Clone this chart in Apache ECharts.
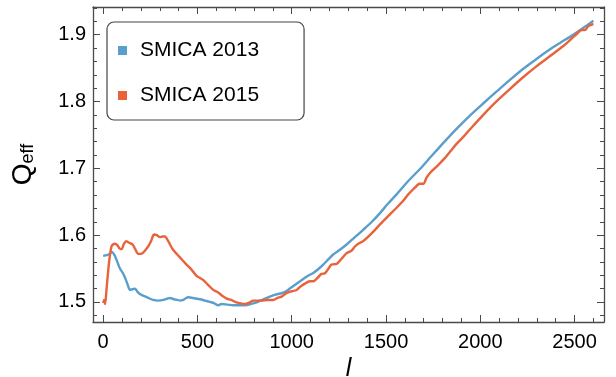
<!DOCTYPE html>
<html>
<head>
<meta charset="utf-8">
<script src="https://cdn.jsdelivr.net/npm/echarts@6/dist/echarts.min.js"></script>
<style>html,body{margin:0;padding:0;background:#fff}#c{width:616px;height:377px}</style>
</head>
<body>
<div id="c"></div>
<script>
// ---- data ----
const seriesNames = ['SMICA 2013', 'SMICA 2015'];
const smica2013 = [
 [0,1.569],[20,1.570],[35,1.572],[46,1.575],[60,1.570],[75,1.560],[89,1.550],[105,1.543],[115,1.537],[130,1.526],
 [142,1.518],[155,1.519],[168,1.520],[182,1.515],[195,1.512],[215,1.509],[239,1.506],[265,1.503],[292,1.502],[320,1.503],
 [340,1.505],[354,1.506],[375,1.504],[395,1.503],[407,1.502],[425,1.503],[440,1.506],[451,1.507],[475,1.506],[513,1.504],
 [540,1.502],[566,1.500],[590,1.498],[610,1.495],[628,1.497],[660,1.496],[690,1.495],[720,1.495],[752,1.495],[785,1.497],
 [814,1.4995],[850,1.504],[884,1.508],[915,1.511],[946,1.513],[970,1.516],[990,1.520],[1020,1.526],[1050,1.532],[1080,1.538],
 [1114,1.5435],[1140,1.549],[1167,1.556],[1195,1.564],[1220,1.571],[1255,1.578],[1291,1.586],[1335,1.597],[1379,1.608],[1425,1.620],
 [1468,1.633],[1510,1.647],[1556,1.661],[1618,1.681],[1680,1.699],[1740,1.718],[1804,1.738],[1870,1.758],[1945,1.779],[2015,1.797],
 [2087,1.815],[2160,1.833],[2228,1.849],[2300,1.864],[2370,1.878],[2425,1.888],[2476,1.897],[2540,1.909],[2600,1.921]
];
const smica2015 = [
 [0,1.4985],[5,1.503],[10,1.497],[18,1.520],[27,1.548],[35,1.568],[44,1.583],[52,1.586],[62,1.587],[75,1.585],
 [87,1.580],[97,1.579],[110,1.587],[122,1.591],[135,1.589],[156,1.586],[170,1.579],[186,1.572],[200,1.572],[212,1.574],
 [225,1.578],[239,1.583],[255,1.592],[270,1.601],[285,1.600],[301,1.597],[315,1.598],[327,1.598],[345,1.591],[358,1.584],
 [371,1.578],[393,1.571],[416,1.564],[438,1.557],[460,1.551],[478,1.545],[495,1.539],[513,1.536],[530,1.533],[555,1.526],
 [584,1.518],[610,1.514],[633,1.509],[655,1.505],[679,1.503],[700,1.500],[716,1.4985],[735,1.4975],[752,1.497],[775,1.499],
 [796,1.502],[818,1.502],[840,1.502],[870,1.503],[902,1.503],[925,1.506],[946,1.508],[973,1.5135],[1000,1.516],[1026,1.518],
 [1050,1.524],[1079,1.529],[1097,1.531],[1114,1.531],[1140,1.537],[1158,1.542],[1176,1.543],[1195,1.550],[1211,1.556],[1238,1.557],
 [1265,1.565],[1291,1.573],[1318,1.577],[1335,1.583],[1353,1.587],[1379,1.591],[1425,1.603],[1468,1.616],[1510,1.628],[1556,1.641],
 [1590,1.651],[1618,1.661],[1653,1.671],[1667,1.675],[1678,1.677],[1698,1.677],[1715,1.686],[1733,1.693],[1770,1.703],[1804,1.713],
 [1840,1.725],[1875,1.737],[1910,1.747],[1960,1.763],[2016,1.780],[2060,1.793],[2104,1.805],[2158,1.819],[2230,1.837],[2299,1.853],
 [2370,1.868],[2440,1.883],[2480,1.893],[2511,1.901],[2538,1.907],[2556,1.907],[2573,1.913],[2600,1.916]
];
const xMajorTicks = [0, 500, 1000, 1500, 2000, 2500];
const xMinorTicks = [100, 200, 300, 400, 600, 700, 800, 900, 1100, 1200, 1300, 1400, 1600, 1700, 1800, 1900, 2100, 2200, 2300, 2400, 2600];
const yMajorTicks = [1.5, 1.6, 1.7, 1.8, 1.9];
const yMinorTicks = [1.48, 1.52, 1.54, 1.56, 1.58, 1.62, 1.64, 1.66, 1.68, 1.72, 1.74, 1.76, 1.78, 1.82, 1.84, 1.86, 1.88, 1.92, 1.94];
const xRange = [-54, 2656];
const yRange = [1.47, 1.9414];

// ---- chart ----
const FONT = 'Liberation Sans';
const lineCol = '#4a4a4a';
const colors = ['#5a9fcc', '#e8623a'];

function xAx(pos, ticks, len, labels, line) {
  return {
    type: 'value', position: pos, min: xRange[0], max: xRange[1],
    splitLine: {show: false},
    axisLine: {show: line, onZero: false, lineStyle: {color: lineCol, width: 1.3}},
    axisTick: {show: true, inside: true, length: len, customValues: ticks, lineStyle: {color: lineCol, width: 1}},
    axisLabel: labels ? {show: true, customValues: ticks, fontFamily: FONT, fontSize: 20, color: '#000', margin: 10,
      formatter: v => String(v)} : {show: false}
  };
}
function yAx(pos, ticks, len, labels, line) {
  return {
    type: 'value', position: pos, min: yRange[0], max: yRange[1],
    splitLine: {show: false},
    axisLine: {show: line, onZero: false, lineStyle: {color: lineCol, width: 1.3}},
    axisTick: {show: true, inside: true, length: len, customValues: ticks, lineStyle: {color: lineCol, width: 1}},
    axisLabel: labels ? {show: true, customValues: ticks, fontFamily: FONT, fontSize: 20, color: '#000', margin: 7,
      formatter: v => v.toFixed(1)} : {show: false}
  };
}

const xAxes = [
  xAx('bottom', xMajorTicks, 7, true, true),
  xAx('bottom', xMinorTicks, 4, false, false),
  xAx('top', xMajorTicks, 7, false, true),
  xAx('top', xMinorTicks, 4, false, false)
];
xAxes[0].name = 'l';
xAxes[0].nameLocation = 'middle';
xAxes[0].nameGap = 35;
xAxes[0].nameTextStyle = {fontFamily: FONT, fontStyle: 'italic', fontSize: 25, color: '#000'};

const yAxes = [
  yAx('left', yMajorTicks, 7, true, true),
  yAx('left', yMinorTicks, 4, false, false),
  yAx('right', yMajorTicks, 7, false, true),
  yAx('right', yMinorTicks, 4, false, false)
];
yAxes[0].name = '{q|Q}{s|eff}';
yAxes[0].nameLocation = 'middle';
yAxes[0].nameRotate = 90;
yAxes[0].nameGap = 56;
yAxes[0].nameTextStyle = {
  color: '#000', fontFamily: FONT,
  rich: {
    q: {fontFamily: FONT, fontSize: 28, color: '#000', lineHeight: 32, verticalAlign: 'bottom'},
    s: {fontFamily: FONT, fontSize: 18, color: '#000', lineHeight: 20, verticalAlign: 'bottom'}
  }
};

const chart = echarts.init(document.getElementById('c'), null, {renderer: 'canvas'});
chart.setOption({
  animation: false,
  backgroundColor: '#fff',
  color: colors,
  grid: {left: 93, right: 12, top: 7, bottom: 55, containLabel: false, outerBoundsMode: 'none'},
  legend: {
    data: seriesNames, orient: 'vertical', left: 107, top: 22,
    padding: [18, 45, 14, 11], itemWidth: 9, itemHeight: 9, itemGap: 24, icon: 'rect',
    borderColor: '#444', borderWidth: 1.2, borderRadius: 7, backgroundColor: '#fff',
    textStyle: {fontFamily: FONT, fontSize: 21, color: '#000', padding: [0, 0, 0, 8]}
  },
  xAxis: xAxes,
  yAxis: yAxes,
  series: [
    {name: seriesNames[0], type: 'line', data: smica2013, showSymbol: false, smooth: 0.3,
     lineStyle: {width: 2.4, color: colors[0]}, itemStyle: {color: colors[0]}, z: 2},
    {name: seriesNames[1], type: 'line', data: smica2015, showSymbol: false, smooth: 0.3,
     lineStyle: {width: 2.4, color: colors[1]}, itemStyle: {color: colors[1]}, z: 3}
  ]
});
</script>
</body>
</html>
